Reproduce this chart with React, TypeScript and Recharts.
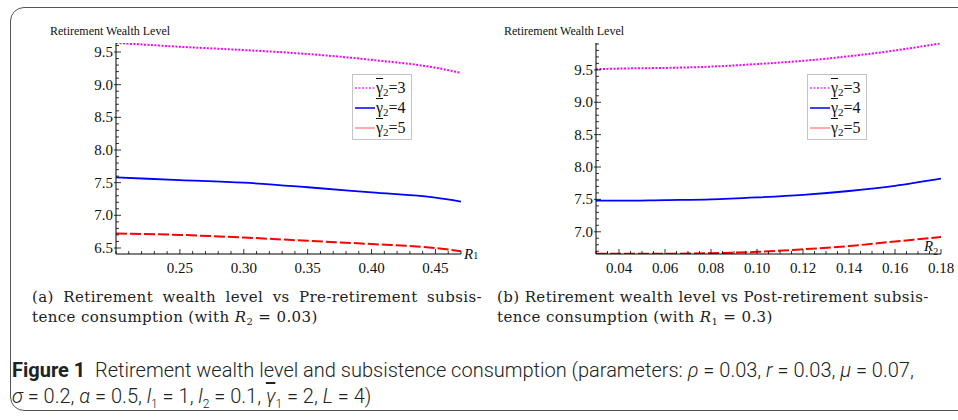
import { LineChart, Line, XAxis, YAxis, Legend } from 'recharts';

// panel (a): wealth vs R1 (R2 = 0.03)
const r1Values = [0.2, 0.25, 0.3, 0.35, 0.4, 0.45, 0.47];
const aGamma3 = [9.64, 9.58, 9.53, 9.47, 9.38, 9.26, 9.18];
const aGamma4 = [7.58, 7.54, 7.5, 7.43, 7.35, 7.27, 7.21];
const aGamma5 = [6.72, 6.7, 6.66, 6.61, 6.56, 6.5, 6.45];

// panel (b): wealth vs R2 (R1 = 0.3)
const r2Values = [0.03, 0.04, 0.06, 0.08, 0.1, 0.12, 0.14, 0.16, 0.18];
const bGamma3 = [9.51, 9.52, 9.53, 9.55, 9.59, 9.64, 9.71, 9.8, 9.91];
const bGamma4 = [7.48, 7.48, 7.49, 7.5, 7.53, 7.57, 7.63, 7.71, 7.82];
const bGamma5 = [6.66, 6.66, 6.66, 6.67, 6.69, 6.73, 6.78, 6.85, 6.92];

const aXMajor = [0.25, 0.3, 0.35, 0.4, 0.45];
const bXMajor = [0.04, 0.06, 0.08, 0.1, 0.12, 0.14, 0.16, 0.18];
const yMajor = [6.5, 7.0, 7.5, 8.0, 8.5, 9.0, 9.5];
const legendLabels = ['3', '4', '5'];

const SERIF = "'Liberation Serif', 'Times New Roman', serif";
const CM = "'DejaVu Serif', serif";
const SANS = "Roboto, 'Noto Sans', sans-serif";

// minor tick helper (inclusive, rounded to avoid float noise)
const steps = (from: number, to: number, step: number) => {
  const out: number[] = [];
  const n = Math.round((to - from) / step);
  for (let i = 0; i <= n; i++) out.push(Math.round((from + i * step) * 1000) / 1000);
  return out;
};

const isMajor = (list: number[], v: number) => list.some((m) => Math.abs(m - v) < 1e-6);

const makeRows = (xs: number[], g3: number[], g4: number[], g5: number[]) =>
  xs.map((x, i) => ({ x, g3: g3[i], g4: g4[i], g5: g5[i] }));

const tickText = { fontFamily: SERIF, fontSize: 15, fill: '#111' };

function YTick(props: any) {
  const { x, y, payload } = props;
  const major = isMajor(yMajor, payload.value);
  return (
    <g>
      <line x1={major ? x - 2 : x} x2={x + (major ? 5 : 3)} y1={y} y2={y} stroke="#000" strokeWidth={0.8} />
      {major && (
        <text x={x - 3} y={y} dy={5} textAnchor="end" fontFamily={SERIF} style={tickText}>
          {payload.value.toFixed(1)}
        </text>
      )}
    </g>
  );
}

const makeXTick = (majors: number[]) => (props: any) => {
  const { x, y, payload } = props;
  const major = isMajor(majors, payload.value);
  return (
    <g>
      <line x1={x} x2={x} y1={y} y2={y - (major ? 5 : 3)} stroke="#000" strokeWidth={0.8} />
      {major && (
        <text x={x} y={y + 19} textAnchor="middle" fontFamily={SERIF} style={tickText}>
          {payload.value.toFixed(2)}
        </text>
      )}
    </g>
  );
};

const sampleStyle: Record<string, any> = {
  g3: { stroke: '#ff33ff', dash: '2 1.5', opacity: 1 },
  g4: { stroke: '#0000ee', dash: undefined, opacity: 1 },
  g5: { stroke: '#ff4444', dash: undefined, opacity: 0.6 },
};

function LegendBox(props: any) {
  const items = props.payload || [];
  return (
    <div
      style={{
        width: 60,
        height: 66,
        boxSizing: 'border-box',
        border: '1px solid #c4c4c4',
        background: '#fff',
        paddingTop: 3,
        fontFamily: SERIF,
        fontSize: 16,
        color: '#111',
      }}
    >
      {items.map((it: any, i: number) => {
        const s = sampleStyle[it.dataKey];
        return (
          <div key={i} style={{ display: 'flex', alignItems: 'center', height: 20, paddingLeft: 2 }}>
            <svg width={20} height={6} style={{ marginRight: 1 }}>
              <line x1={0} x2={20} y1={3} y2={3} stroke={s.stroke} strokeWidth={1.5} strokeDasharray={s.dash} opacity={s.opacity} />
            </svg>
            <span style={{ textDecoration: 'overline' }}>γ</span>
            <span style={{ fontSize: 11, position: 'relative', top: 4 }}>2</span>
            <span>={legendLabels[i]}</span>
          </div>
        );
      })}
    </div>
  );
}

function Panel(props: {
  rows: any[];
  xDomain: [number, number];
  xTicks: number[];
  xMajor: number[];
  yDomain: [number, number];
  yTicks: number[];
  legendLeft: number;
}) {
  const { rows, xDomain, xTicks, xMajor, yDomain, yTicks, legendLeft } = props;
  return (
    <LineChart width={480} height={290} data={rows} margin={{ top: 43, right: 19, bottom: 6, left: 76 }}>
      <XAxis
        type="number"
        dataKey="x"
        domain={xDomain}
        ticks={xTicks}
        interval={0}
        allowDataOverflow
        height={30}
        tickSize={0}
        tickMargin={0}
        tickLine={false}
        axisLine={{ stroke: '#000', strokeWidth: 1 }}
        tick={makeXTick(xMajor)}
      />
      <YAxis
        type="number"
        domain={yDomain}
        ticks={yTicks}
        interval={0}
        allowDataOverflow
        width={40}
        tickSize={0}
        tickMargin={0}
        tickLine={false}
        axisLine={{ stroke: '#000', strokeWidth: 1 }}
        tick={<YTick />}
      />
      <Legend
        layout="vertical"
        align="center"
        verticalAlign="middle"
        content={<LegendBox />}
        wrapperStyle={{ left: legendLeft, top: 74, width: 60, height: 66 }}
      />
      <Line dataKey="g3" name="3" type="monotone" stroke="#ff00ff" strokeWidth={2} strokeDasharray="2 1.5" dot={false} isAnimationActive={false} />
      <Line dataKey="g4" name="4" type="monotone" stroke="#0000ff" strokeWidth={1.8} dot={false} isAnimationActive={false} />
      <Line dataKey="g5" name="5" type="monotone" stroke="#ff0000" strokeWidth={2} strokeDasharray="11 3" dot={false} isAnimationActive={false} />
    </LineChart>
  );
}

const abs = (left: number, top: number, extra: any = {}) => ({ position: 'absolute' as const, left, top, ...extra });

export default function App() {
  const aRows = makeRows(r1Values, aGamma3, aGamma4, aGamma5);
  const bRows = makeRows(r2Values, bGamma3, bGamma4, bGamma5);
  const capStyle = { fontFamily: CM, fontSize: 15, letterSpacing: 0.4, color: '#222', whiteSpace: 'nowrap' as const };
  const figStyle = { fontFamily: SANS, fontSize: 20, fontWeight: 300, color: '#222', whiteSpace: 'nowrap' as const };
  return (
    <div style={{ position: 'fixed', left: 0, top: 0, width: 958, height: 420, background: '#fff', overflow: 'hidden' }}>
      <div style={abs(10, 7, { width: 980, height: 404, border: '1.5px solid #555', borderRadius: 14, boxSizing: 'border-box' })} />

      <div style={abs(0, 0)}>
        <Panel
          rows={aRows}
          xDomain={[0.2, 0.47]}
          xTicks={steps(0.2, 0.47, 0.01)}
          xMajor={aXMajor}
          yDomain={[6.408, 9.638]}
          yTicks={steps(6.5, 9.6, 0.1)}
          legendLeft={352}
        />
      </div>
      <div style={abs(480, 0)}>
        <Panel
          rows={bRows}
          xDomain={[0.03, 0.18]}
          xTicks={steps(0.03, 0.18, 0.005)}
          xMajor={bXMajor}
          yDomain={[6.657, 9.915]}
          yTicks={steps(6.7, 9.9, 0.1)}
          legendLeft={327}
        />
      </div>

      <div style={abs(50, 24, { fontFamily: SERIF, fontSize: 12, color: '#111' })}>Retirement Wealth Level</div>
      <div style={abs(504, 24, { fontFamily: SERIF, fontSize: 12, color: '#111' })}>Retirement Wealth Level</div>
      <div style={abs(464, 246, { fontFamily: SERIF, fontSize: 15, fontStyle: 'italic', color: '#111' })}>
        R<span style={{ fontSize: 10, fontStyle: 'normal' }}>1</span>
      </div>
      <div style={abs(924, 238, { fontFamily: SERIF, fontSize: 15, fontStyle: 'italic', color: '#111' })}>
        R<span style={{ fontSize: 10, fontStyle: 'normal', position: 'relative', top: 4 }}>2</span>
      </div>

      <div style={abs(32, 288, { ...capStyle, width: 450, textAlign: 'justify', textAlignLast: 'justify' })}>
        (a) Retirement wealth level vs Pre-retirement subsis-
      </div>
      <div style={abs(32, 308, capStyle)}>
        tence consumption (with <i>R</i>
        <span style={{ fontSize: 10, position: 'relative', top: 3 }}>2</span> = 0.03)
      </div>
      <div style={abs(497, 288, { ...capStyle, width: 430, textAlign: 'justify', textAlignLast: 'justify' })}>
        (b) Retirement wealth level vs Post-retirement subsis-
      </div>
      <div style={abs(497, 308, capStyle)}>
        tence consumption (with <i>R</i>
        <span style={{ fontSize: 10, position: 'relative', top: 3 }}>1</span> = 0.3)
      </div>

      <div style={abs(12, 358, figStyle)}>
        <b style={{ fontWeight: 700 }}>Figure 1</b>&nbsp; Retirement wealth level and subsistence consumption (parameters: <i>ρ</i> = 0.03,{' '}
        <i>r</i> = 0.03, <i>μ</i> = 0.07,
      </div>
      <div style={abs(12, 384, figStyle)}>
        <i>σ</i> = 0.2, <i>α</i> = 0.5, <i>l</i>
        <sub style={{ fontSize: 12 }}>1</sub> = 1, <i>l</i>
        <sub style={{ fontSize: 12 }}>2</sub> = 0.1, <i style={{ textDecoration: 'overline' }}>γ</i>
        <sub style={{ fontSize: 12 }}>1</sub> = 2, <i>L</i> = 4)
      </div>
    </div>
  );
}
